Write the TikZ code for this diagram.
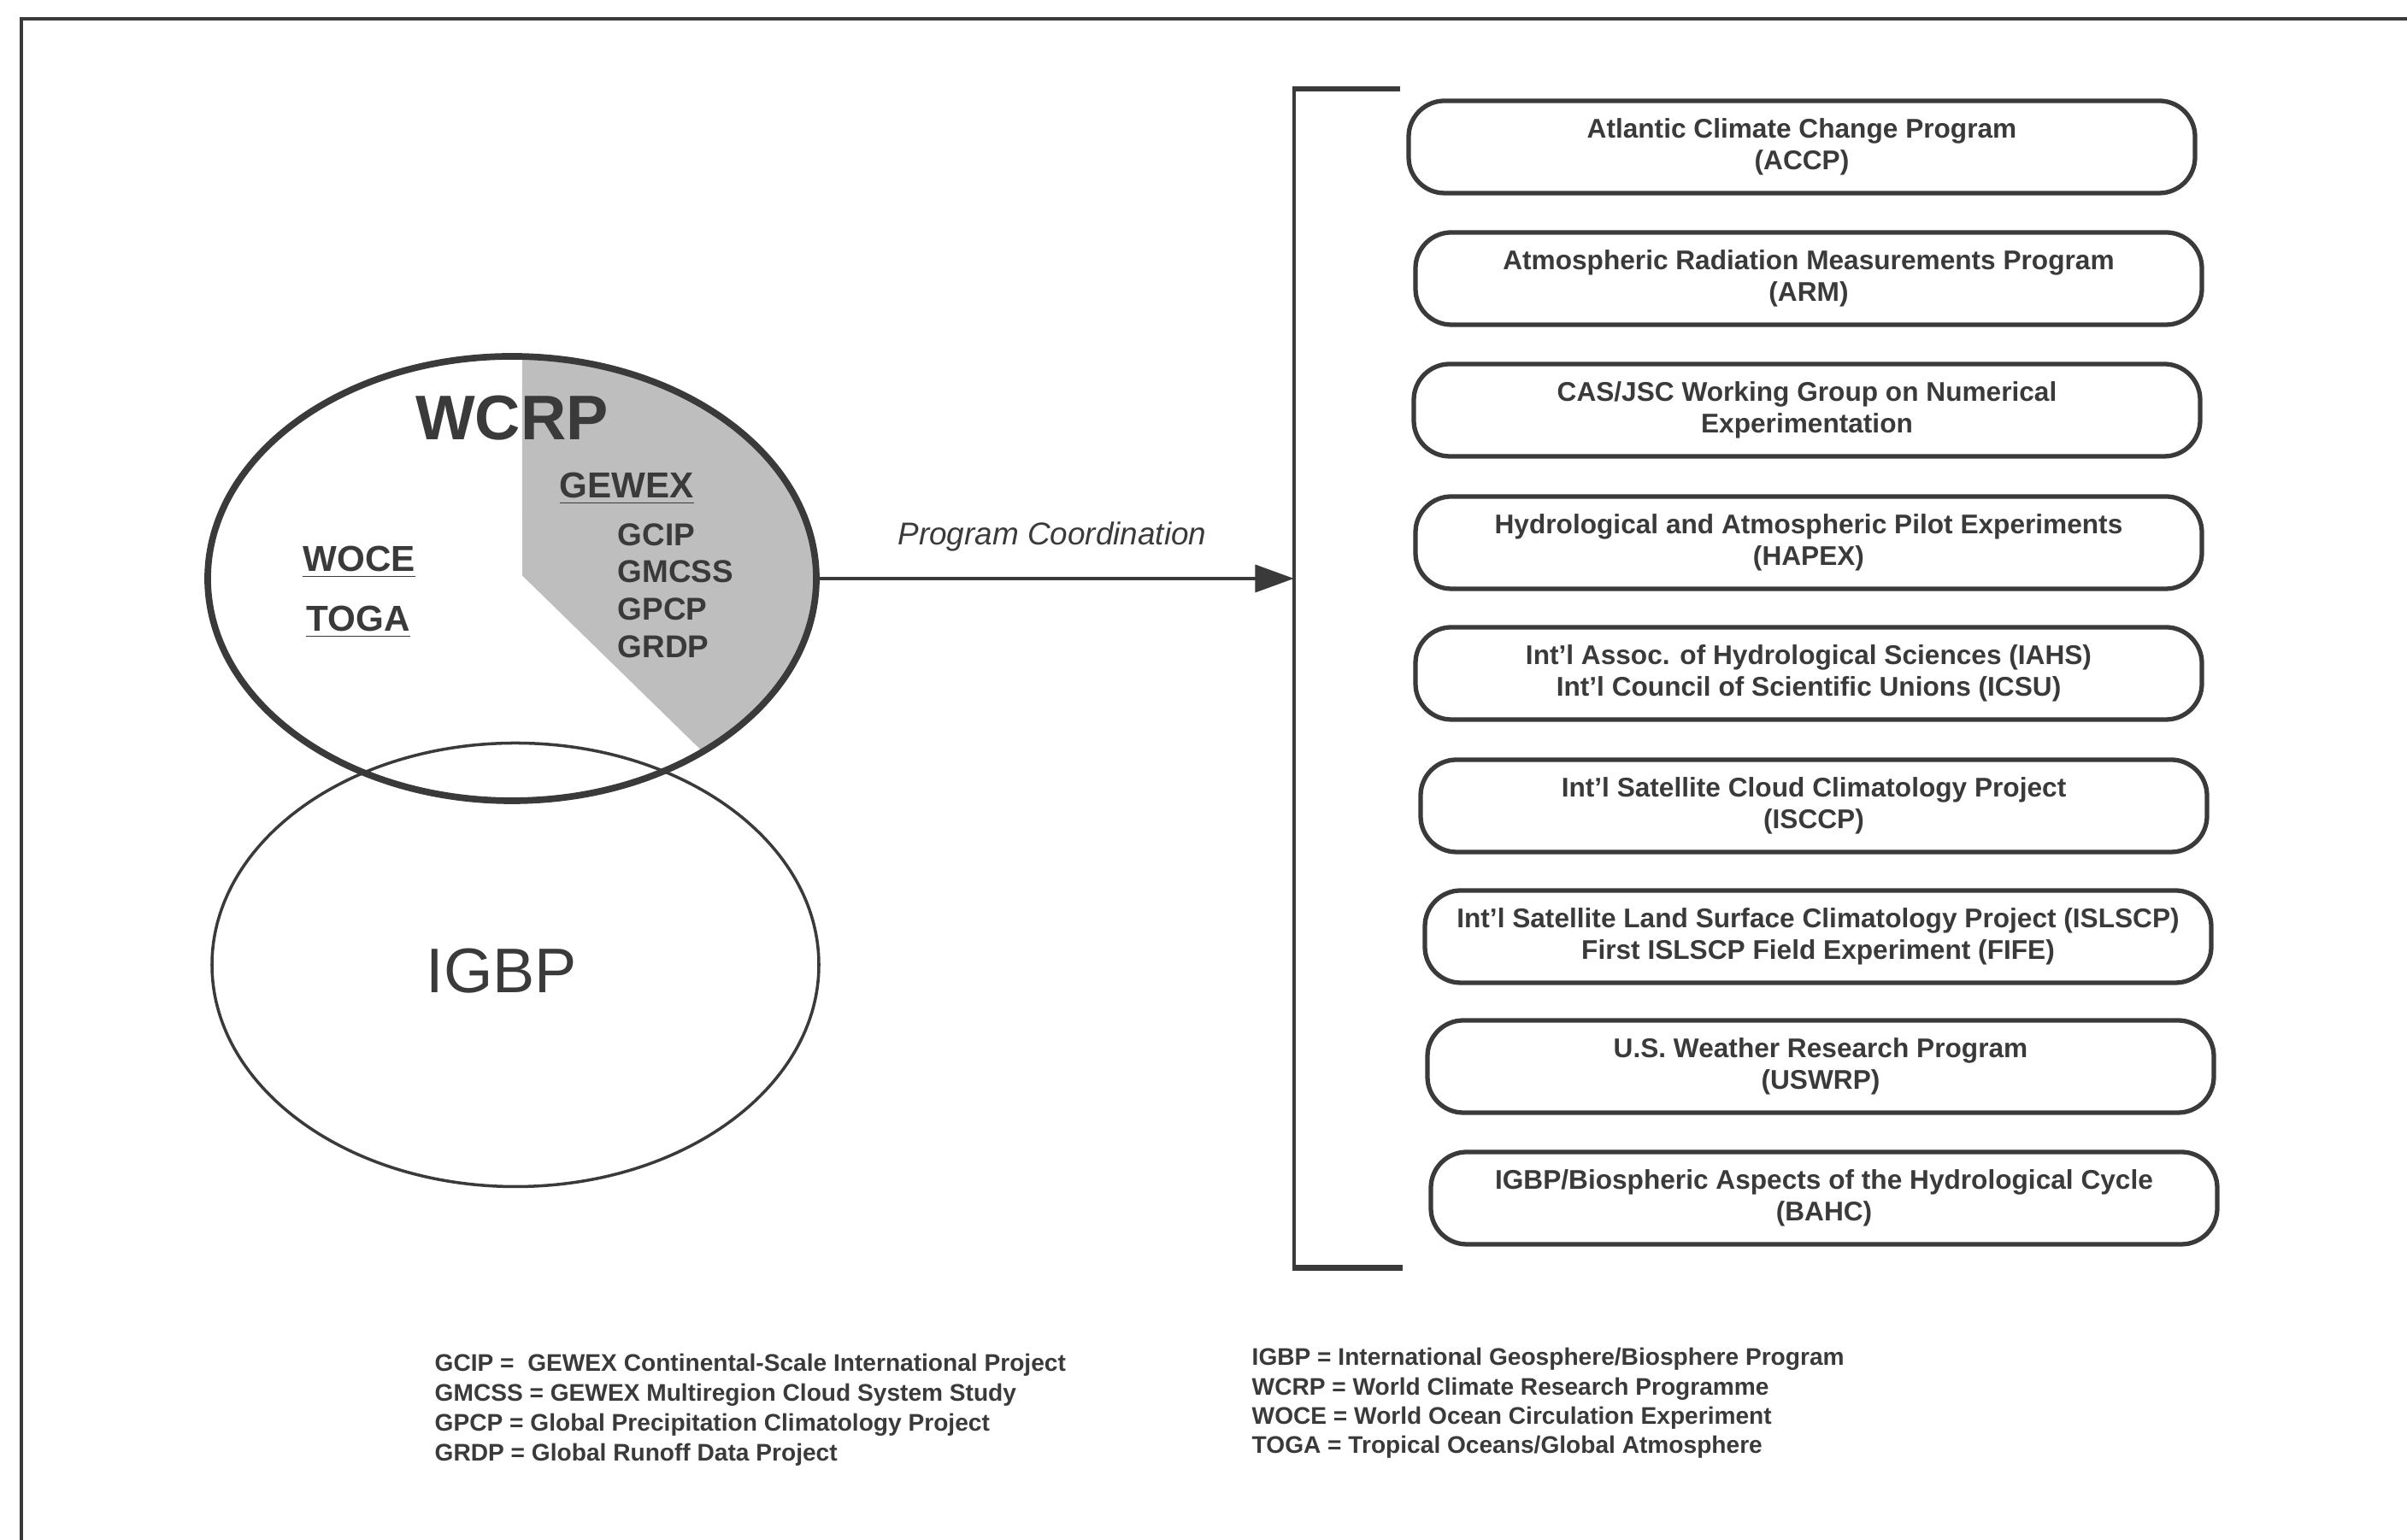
\documentclass[tikz,border=0pt]{standalone}
\usepackage{fontspec}
\setmainfont{Liberation Sans}
\usetikzlibrary{shapes.geometric,arrows.meta,calc}

\definecolor{ink}{HTML}{3A3A3A}
\definecolor{shadegray}{HTML}{BEBEBE}

\tikzset{
	progbox/.style={draw=ink, line width=1.5pt, rounded corners=0.42cm, minimum width=9.2cm, minimum height=1.08cm, inner sep=0pt, align=center, text=ink, font=\fontsize{9}{10.7}\selectfont\bfseries},
	acro/.style={text=ink, inner sep=0pt, anchor=base, font=\fontsize{12}{14}\selectfont\bfseries},
	subacro/.style={text=ink, inner sep=0pt, anchor=base west, font=\fontsize{10.5}{12.4}\selectfont\bfseries},
	legline/.style={text=ink, inner sep=0pt, anchor=base west, font=\fontsize{8}{9.8}\selectfont\bfseries},
}

\begin{document}
\begin{tikzpicture}
	  \useasboundingbox (0,0) rectangle (28.16,18.02);
	  \draw[ink, line width=1.3pt] (0.25,0) -- (0.25,17.80) -- (28.16,17.80);   % frame
	
	  % GEWEX part of WCRP
	  \coordinate (wcrpc) at (5.99,11.25);
	  \fill[shadegray] (6.11,11.285) -- ($(wcrpc)+(-51.2:3.56 and 2.60)$) arc[start angle=-51.2, end angle=88.07, x radius=3.56, y radius=2.60] -- cycle;
	
	  \node[ellipse, draw=ink, line width=1pt, minimum width=7.10cm, minimum height=5.19cm, inner sep=0pt] (igbp) at (6.03,6.73) {};
	  \node[ellipse, draw=ink, line width=2.2pt, minimum width=7.12cm, minimum height=5.20cm, inner sep=0pt] (wcrp) at (wcrpc) {};
	
	  \node[text=ink, inner sep=0pt, anchor=base, font=\fontsize{21}{25}\selectfont\bfseries] (wcrptxt) at (5.99,12.87) {WCRP};
	  \node[text=ink, inner sep=0pt, anchor=base, font=\fontsize{21}{25}\selectfont] (igbptxt) at (5.87,6.40) {IGBP};
	
	  \node[acro] (gewex) at (7.33,12.19) {\underline{GEWEX}};
	  \node[acro] (woce) at (4.20,11.33) {\underline{WOCE}};
	  \node[acro] (toga) at (4.19,10.63) {\underline{TOGA}};
	  \foreach \abbr [count=\i] in {GCIP,GMCSS,GPCP,GRDP}
	    \node[subacro] (g\i) at (7.22,{11.637-0.436*(\i-1)}) {\abbr};
	
	  % bracket round the programs
	  \coordinate (brktop) at (15.14,16.98);
	  \coordinate (brkbot) at (15.14,3.185);
	  \coordinate (brk) at (15.14,11.25);
	  \draw[ink, line width=1pt] (brktop) -- (brkbot);
	  \draw[ink, line width=1.8pt] ([xshift=-0.5pt]brktop) -- ++(1.26,0);
	  \draw[ink, line width=1.8pt] ([xshift=-0.5pt]brkbot) -- ++(1.29,0);
	
	  \draw[ink, line width=1.4pt, -{Triangle[length=13pt,width=9pt]}] (wcrp.east) -- (brk)
	    node[pos=0.49, yshift=14pt, inner sep=0pt, font=\fontsize{10.5}{12}\selectfont\itshape] (coord) {Program Coordination};
	
	  % programs
	  \node[progbox] (accp) at (21.08,16.30) {Atlantic Climate Change Program\\(ACCP)};
	  \node[progbox] (arm) at (21.16,14.76) {Atmospheric Radiation Measurements Program\\(ARM)};
	  \node[progbox] (casjsc) at (21.14,13.22) {CAS/JSC Working Group on Numerical\\Experimentation};
	  \node[progbox] (hapex) at (21.16,11.67) {Hydrological and Atmospheric Pilot Experiments\\(HAPEX)};
	  \node[progbox] (iahs) at (21.16,10.14) {Int'l Assoc. of Hydrological Sciences (IAHS)\\Int'l Council of Scientific Unions (ICSU)};
	  \node[progbox] (isccp) at (21.22,8.59) {Int'l Satellite Cloud Climatology Project\\(ISCCP)};
	  \node[progbox] (islscp) at (21.27,7.06) {Int'l Satellite Land Surface Climatology Project (ISLSCP)\\First ISLSCP Field Experiment (FIFE)};
	  \node[progbox] (uswrp) at (21.30,5.54) {U.S. Weather Research Program\\(USWRP)};
	  \node[progbox] (bahc) at (21.34,4.00) {IGBP/Biospheric Aspects of the Hydrological Cycle\\(BAHC)};
	
	  % legend
	  \foreach \txt [count=\i] in {GCIP = \ GEWEX Continental-Scale International Project, GMCSS = GEWEX Multiregion Cloud System Study, GPCP = Global Precipitation Climatology Project, GRDP = Global Runoff Data Project}
	    \node[legline] (legl\i) at (5.08,{1.97-0.347*(\i-1)}) {\txt};
	  \foreach \txt [count=\i] in {IGBP = International Geosphere/Biosphere Program, WCRP = World Climate Research Programme, WOCE = World Ocean Circulation Experiment, TOGA = Tropical Oceans/Global Atmosphere}
	    \node[legline] (legr\i) at (14.64,{2.04-0.341*(\i-1)}) {\txt};
	
	\end{tikzpicture}
\end{document}
